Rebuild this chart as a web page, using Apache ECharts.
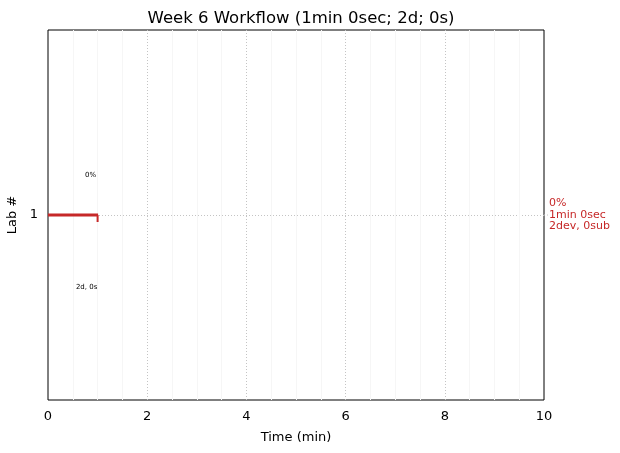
<!DOCTYPE html>
<html><head><meta charset="utf-8">
<script src="https://cdn.jsdelivr.net/npm/echarts@6/dist/echarts.min.js"></script>
<style>html,body{margin:0;padding:0;background:#fff}#c{width:620px;height:453px}</style>
</head><body><div id="c"></div>
<script>
const titleText = 'Week 6 Workflow (1min 0sec; 2d; 0s)';
const labs = [1];
const durationsMin = [1];
const percentLabels = ['0%'];
const innerLabels = ['2d, 0s'];
const rightLabels = ['0%\n1min 0sec\n2dev, 0sub'];
const xTicks = [0, 2, 4, 6, 8, 10];
const red = '#c62828';
const font = 'DejaVu Sans';

const chart = echarts.init(document.getElementById('c'));
chart.setOption({
  animation: false,
  textStyle: { fontFamily: font },
  title: { text: titleText, left: 296, textAlign: 'center', top: 5, textStyle: { fontFamily: font, fontSize: 16.5, fontWeight: 'normal', color: '#000' } },
  grid: { left: 48, right: 76, top: 30, bottom: 53, show: true, borderColor: '#000', borderWidth: 1, containLabel: false, outerBoundsMode: 'none' },
  xAxis: {
    type: 'value', min: xTicks[0], max: xTicks[xTicks.length - 1], interval: 2,
    name: 'Time (min)', nameLocation: 'middle', nameGap: 31,
    nameTextStyle: { fontFamily: font, fontSize: 13, color: '#000' },
    axisLine: { show: false }, axisTick: { show: false },
    axisLabel: { fontFamily: font, fontSize: 13, color: '#000', margin: 10 },
    splitLine: { show: true, showMinLine: false, showMaxLine: false, lineStyle: { color: '#c4c4c4', type: [1, 2], width: 1 } },
    minorTick: { show: false, splitNumber: 4 },
    minorSplitLine: { show: true, lineStyle: { color: '#f6f6f6', width: 1 } }
  },
  yAxis: {
    type: 'value', min: 0, max: 2, interval: 1,
    name: 'Lab #', nameLocation: 'middle', nameGap: 23, nameRotate: 90,
    nameTextStyle: { fontFamily: font, fontSize: 13, color: '#000' },
    axisLine: { show: false }, axisTick: { show: false },
    axisLabel: { fontFamily: font, fontSize: 13, color: '#000', margin: 10,
      formatter: v => labs.includes(v) ? String(v) : '' },
    splitLine: { show: true, showMinLine: false, showMaxLine: false, lineStyle: { color: '#c4c4c4', type: [1, 2], width: 1 } }
  },
  series: [{
    type: 'custom',
    clip: false,
    data: labs.map((l, i) => [durationsMin[i], l, i]),
    renderItem: function (params, api) {
      const i = api.value(2);
      const start = api.coord([0, api.value(1)]);
      const end = api.coord([api.value(0), api.value(1)]);
      const rightEdge = api.coord([xTicks[xTicks.length - 1], api.value(1)]);
      return {
        type: 'group',
        children: [
          { type: 'line', shape: { x1: rightEdge[0], y1: end[1], x2: rightEdge[0] + 4, y2: end[1] }, style: { stroke: '#c4c4c4', lineWidth: 1, lineDash: [1, 2] } },
          { type: 'line', shape: { x1: start[0], y1: start[1], x2: end[0] + 0.5, y2: end[1] }, style: { stroke: red, lineWidth: 3 } },
          { type: 'line', shape: { x1: end[0], y1: end[1], x2: end[0], y2: end[1] + 7 }, style: { stroke: red, lineWidth: 2 } },
          { type: 'text', x: end[0] - 7, y: end[1] - 40, style: { text: percentLabels[i], fontFamily: font, fontSize: 7, fill: '#000', align: 'center', verticalAlign: 'middle' } },
          { type: 'text', x: end[0] - 11, y: end[1] + 72, style: { text: innerLabels[i], fontFamily: font, fontSize: 7, fill: '#000', align: 'center', verticalAlign: 'middle' } },
          { type: 'text', x: rightEdge[0] + 5, y: end[1], style: { text: rightLabels[i], fontFamily: font, fontSize: 11, lineHeight: 11.5, fill: red, align: 'left', verticalAlign: 'middle' } }
        ]
      };
    }
  }]
});
</script></body></html>
